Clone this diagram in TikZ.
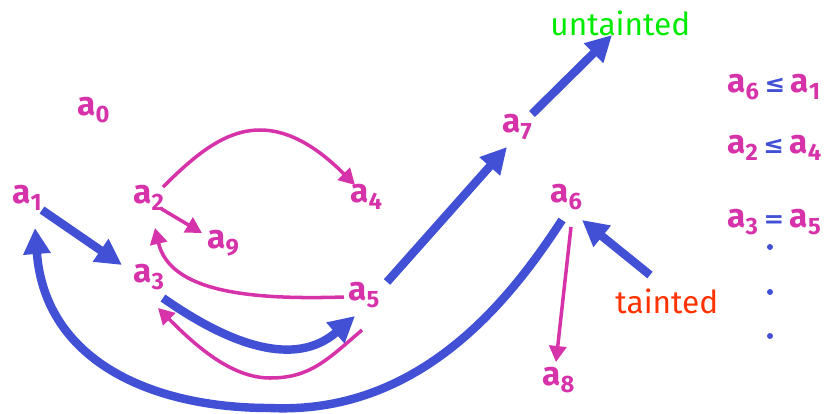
\documentclass[tikz,border=0pt]{standalone}
\usepackage{fontspec}
\setmainfont{Fira Sans}
\newfontfamily\symfont{DejaVu Sans}
\usetikzlibrary{arrows.meta}

\definecolor{linkblue}{RGB}{66,80,214}
\definecolor{varpink}{RGB}{214,50,170}
\definecolor{cleangreen}{RGB}{0,235,0}
\definecolor{dirtyred}{RGB}{255,50,0}

% variable with a lowered index
\newcommand{\va}[1]{a\raisebox{-4.5pt}{\fontsize{13.5}{14}\selectfont #1}}
\newcommand{\rel}[1]{\,{\color{linkblue}\symfont\bfseries\fontsize{14}{14}\selectfont #1}\,}

\tikzset{
  var/.style={anchor=base west, inner sep=0pt, text=varpink, font=\fontsize{19}{22}\selectfont\bfseries},
  flow/.style={linkblue, line width=4.8pt, -{Triangle[length=0.52cm, width=0.52cm]}},
  dep/.style={varpink, line width=2pt, -{Triangle[length=0.32cm, width=0.34cm]}},
}

\begin{document}
\begin{tikzpicture}[x=0.02cm, y=-0.02cm, line join=round]
    \useasboundingbox (0,0) rectangle (825,413);

    % --- variables ---
    \node[var] (a0) at (77,115) {\va{0}};
    \node[var] (a1) at (12,203) {\va{1}};
    \node[var] (a2) at (133,203) {\va{2}};
    \node[var] (a3) at (133,282) {\va{3}};
    \node[var] (a4) at (350,202) {\va{4}};
    \node[var] (a5) at (348,300) {\va{5}};
    \node[var] (a6) at (550,202) {\va{6}};
    \node[var] (a7) at (502,132) {\va{7}};
    \node[var] (a8) at (542,385) {\va{8}};
    \node[var] (a9) at (207,248) {\va{9}};

    % --- sources and sinks ---
    \node[var, text=cleangreen, font=\fontsize{18}{20}\selectfont] (untainted) at (550,35) {untainted};
    \node[var, text=dirtyred, font=\fontsize{18}{20}\selectfont] (tainted) at (615,313) {tainted};

    % --- constraints ---
    \node[var] (rel1) at (727,92) {\va{6}\rel{≤}\va{1}};
    \node[var] (rel2) at (727,153) {\va{2}\rel{≤}\va{4}};
    \node[var] (rel3) at (727,227) {\va{3}\rel{=}\va{5}};
    \foreach \y in {247,292,336}
        \fill[linkblue] (770,\y) circle (3);

    % --- taint flow (blue) ---
    \draw[flow] ([shift={(30,7)}]a1.base west) -- ([shift={(-11,-17)}]a3.base west);
    \draw[flow] ([shift={(30,16)}]a3.base west)
        .. controls +(67,47) and +(-60,52) .. ([shift={(7,16)}]a5.base west);
    \draw[flow] ([shift={(39,-18)}]a5.base west) -- ([shift={(5,15)}]a7.base west);
    \draw[flow] ([shift={(30,-18)}]a7.base west) -- ([shift={(62,0)}]untainted.base west);
    \draw[flow] ([shift={(35,-38)}]tainted.base west) -- ([shift={(32,18)}]a6.base west);
    \draw[flow] ([shift={(12,18)}]a6.base west)
        .. controls +(-52,80) and +(150,7) .. (270,408)
        .. controls +(-120,0) and +(10,132) .. ([shift={(23,25)}]a1.base west);

    % --- dependencies (pink) ---
    \draw[dep] ([shift={(30,-16)}]a2.base west)
        .. controls +(32,-32) and +(-35,0) .. (260,130)
        .. controls +(35,0) and +(-30,-30) .. ([shift={(5,-17)}]a4.base west);
    \draw[dep] ([shift={(27,5)}]a2.base west) -- ([shift={(-5,-15)}]a9.base west);
    \draw[dep] ([shift={(-4,-3)}]a5.base west)
        .. controls +(-94,3) and +(15,64) .. ([shift={(22,25)}]a2.base west);
    \draw[dep] ([shift={(14,30)}]a5.base west)
        .. controls +(-35,30) and +(40,0) .. (270,378)
        .. controls +(-40,0) and +(35,35) .. ([shift={(25,26)}]a3.base west);
    \draw[dep] ([shift={(21,25)}]a6.base west) -- ([shift={(14,-23)}]a8.base west);

\end{tikzpicture}
\end{document}
